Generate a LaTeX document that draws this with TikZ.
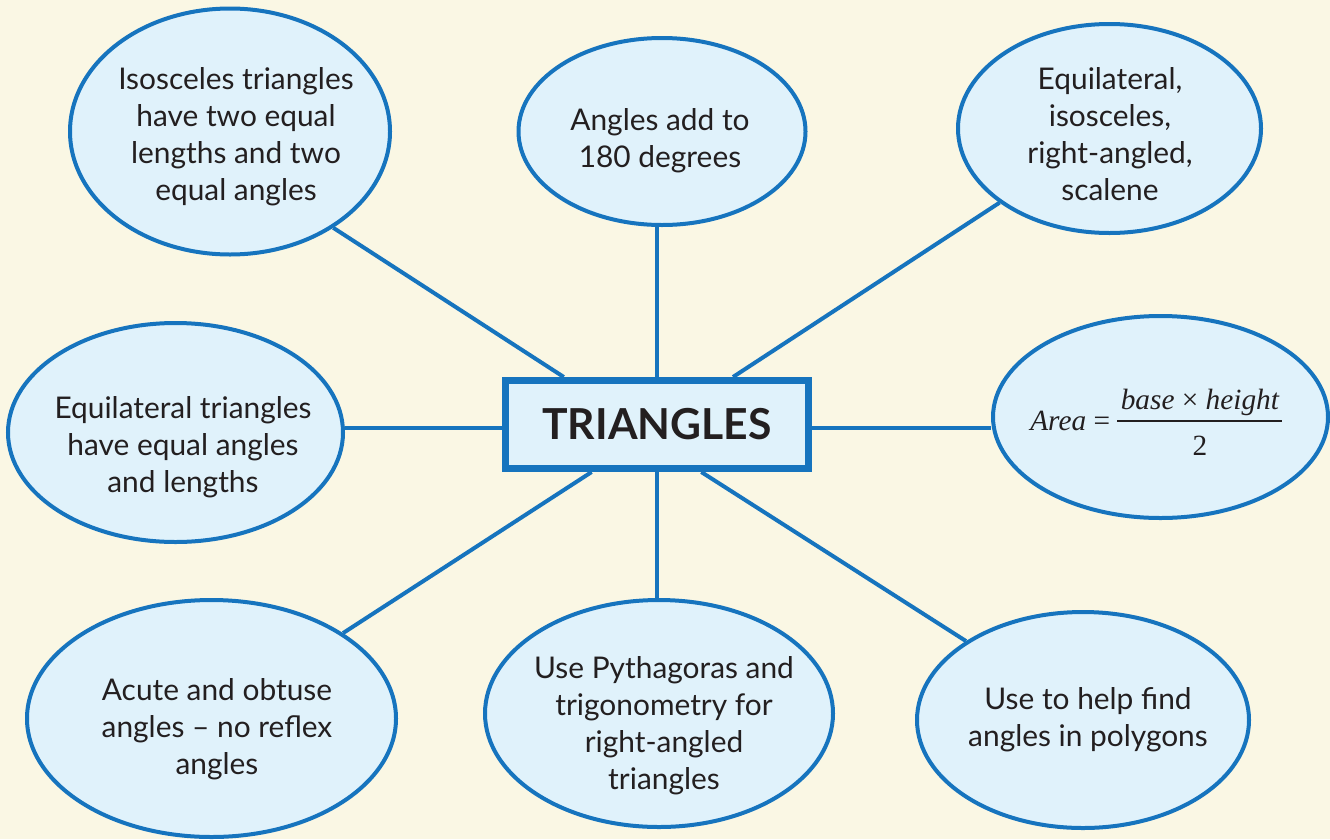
\documentclass[tikz,border=0pt]{standalone}
\usepackage{fontspec}
\setmainfont{Lato}
\newfontfamily\formulafont{Liberation Serif}
\usetikzlibrary{shapes.geometric}

\definecolor{mapblue}{RGB}{22,116,190}
\definecolor{bubblefill}{RGB}{224,242,251}
\definecolor{paper}{RGB}{250,247,228}
\definecolor{ink}{RGB}{35,31,32}

\pgfdeclarelayer{paperlayer}
\pgfdeclarelayer{linklayer}
\pgfsetlayers{paperlayer,linklayer,main}

% built-up fraction: numerator, bar, denominator; baseline sits below the bar
\newcommand\stackfrac[2]{\raisebox{-18.75pt}{\vbox{\offinterlineskip
  \halign{\hskip2.5pt\hfil##\hfil\hskip2.5pt\cr
    \raisebox{0pt}[0pt][0pt]{#1}\cr
    \noalign{\kern7.9pt\hrule height1.5pt\kern24.4pt}
    \raisebox{0pt}[0pt][0pt]{#2}\cr}}}}

\begin{document}
\begin{tikzpicture}[x=0.75pt,y=-0.75pt,
  bubble/.style={ellipse, draw=mapblue, fill=bubblefill, line width=3pt, inner sep=0pt},
  note/.style={align=center, text=ink, font=\fontsize{22.4}{27.75}\selectfont, inner sep=0pt},
  link/.style={draw=mapblue, line width=3pt},
  hub/.style={rectangle, draw=mapblue, fill=bubblefill, line width=5.25pt,
    minimum width=227.25pt, minimum height=66pt, inner sep=0pt, text=ink,
    font=\fontsize{32}{36}\selectfont\bfseries}]

\useasboundingbox (0,0) rectangle (1330,839);
\begin{pgfonlayer}{paperlayer}
  \fill[paper] (0,0) rectangle (1330,839);
\end{pgfonlayer}

% central box
\node[hub] (hub) at (657,424.5) {TRIANGLES};

% surrounding bubbles
\node[bubble, minimum width=240pt,    minimum height=184.5pt]  (tl) at (230,131.5) {};
\node[bubble, minimum width=215.25pt, minimum height=140.25pt] (tc) at (662,131.5) {};
\node[bubble, minimum width=227.25pt, minimum height=156.75pt] (tr) at (1109.5,128.5) {};
\node[bubble, minimum width=251.25pt, minimum height=164.25pt] (ml) at (175.5,432.5) {};
\node[bubble, minimum width=251.25pt, minimum height=151.5pt]  (mr) at (1160.5,417) {};
\node[bubble, minimum width=276.75pt, minimum height=177.75pt] (bl) at (211.5,718.5) {};
\node[bubble, minimum width=261pt,    minimum height=170.25pt] (bc) at (659,713.5) {};
\node[bubble, minimum width=249pt,    minimum height=162pt]    (br) at (1083,720) {};

% bubble texts
\node[note] (tlt) at (236,137) {Isosceles triangles\\have two equal\\lengths and two\\equal angles};
\node[note] (tct) at (660,140.5) {Angles add to\\180 degrees};
\node[note] (trt) at (1110,134.5) {Equilateral,\\isosceles,\\right-angled,\\scalene};
\node[note] (mlt) at (183,447.5) {Equilateral triangles\\have equal angles\\and lengths};
\node[anchor=base west, inner sep=0pt, text=ink,
      font=\fontsize{22}{26}\selectfont\formulafont] (mrt) at (1030,430)
  {{\itshape Area} = \stackfrac{\itshape base {\upshape ×} height}{2}};
\node[note] (blt) at (217,729.5) {Acute and obtuse\\angles -- no reflex\\angles};
\node[note] (bct) at (664,725.5) {Use Pythagoras and\\trigonometry for\\right-angled\\triangles};
\node[note] (brt) at (1088,719.5) {Use to help find\\angles in polygons};

% connectors
\coordinate (hubw) at ([yshift=-2.625pt]hub.west);
\coordinate (hube) at ([yshift=-2.625pt]hub.east);
\begin{pgfonlayer}{linklayer}
  \draw[link] (hub.153.3) -- (tl.-43.7);
  \draw[link] (hub.north) -- (hub.north |- tc.south);
  \draw[link] (hub.32.3) -- (tr.-146.4);
  \draw[link] (hubw) -- (hubw -| ml.east);
  \draw[link] (hube) -- (hube -| mr.west);
  \draw[link] (hub.-144.5) -- (bl.33.6);
  \draw[link] (hub.south) -- (hub.south |- bc.north);
  \draw[link] (hub.-47.3) -- (br.146.4);
\end{pgfonlayer}
\end{tikzpicture}
\end{document}
